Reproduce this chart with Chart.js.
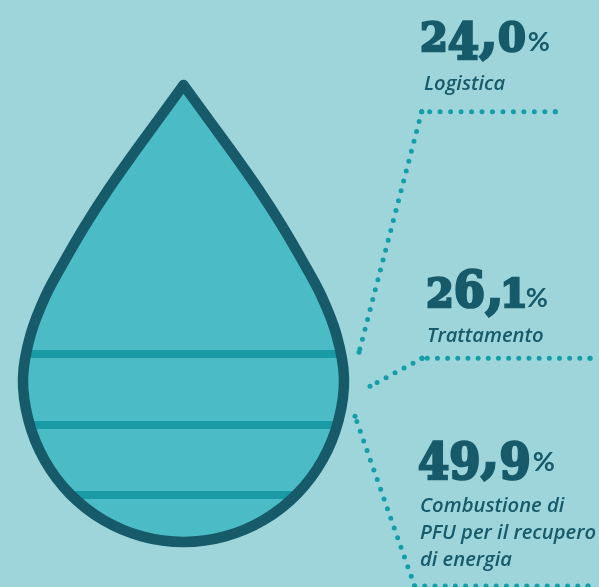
<!DOCTYPE html>
<html lang="it">
<head>
<meta charset="utf-8">
<title>Destinazione dei PFU</title>
<script src="https://cdn.jsdelivr.net/npm/chart.js@4"></script>
<style>
  html, body { margin: 0; padding: 0; background: #9dd5db; }
  #stage { position: relative; width: 599px; height: 587px; overflow: hidden; }
  #stage canvas { position: absolute; left: 0; top: 0; }
  .share { position: absolute; color: #175a69; white-space: nowrap; line-height: 1; }
  .share .num { font-family: "DejaVu Serif", serif; font-weight: 700; -webkit-text-stroke: 2.4px #175a69; display: inline-block; }
  .share .num span { position: relative; display: inline-block; transform-origin: 50% 84.6%; }
  .share .pct { font-family: Lato, sans-serif; font-weight: 700; font-size: 27px; margin-left: 2px; }
  .caption { position: absolute; color: #175a69; font-family: "Open Sans", sans-serif; font-weight: 600; font-style: italic; font-size: 20.2px; white-space: nowrap; line-height: 27px; }
</style>
</head>
<body>
<div id="stage"><canvas id="chart" width="599" height="587"></canvas></div>
<script>
// Shares of end-of-life tyre costs, as printed next to the drop
const categories = [["Logistica"], ["Trattamento"], ["Combustione di", "PFU per il recupero", "di energia"]];
const shares = [24.0, 26.1, 49.9];

// Drop outline, clockwise from the tip round the left side
const dropX = [183.5, 158, 132.5, 108, 85.5, 65, 46, 30.5, 23, 28.5, 44.5, 70, 103.25, 142, 183.5,
               225, 263.75, 297, 322.5, 338.5, 344, 336.5, 321, 302, 281.5, 259, 234.5, 209, 183.5];
const dropY = [85, 120, 155, 190, 225, 260, 295, 335, 378, 420.4, 460, 494, 520, 536.4, 542,
               536.4, 520, 494, 460, 420.4, 378, 335, 295, 260, 225, 190, 155, 120, 85];

// Horizontal bands across the drop
const bandLevels = [354, 425, 495];
const bandLefts = [26, 30, 72];
const bandRights = [341, 337, 295];

// Dotted leaders: each run is listed from the end where its dots begin
const leaderRuns = [
  { x: [555.3, 421.7], y: [111.7, 111.7], pitch: 10.47 },
  { x: [421.7, 359], y: [111.7, 352.3], pitch: 10.22 },
  { x: [590, 422], y: [358.3, 358.3], pitch: 10.17 },
  { x: [422, 370], y: [358.3, 386.3], pitch: 10.2 },
  { x: [588, 414.6], y: [586, 586], pitch: 10.2 },
  { x: [414.6, 355], y: [586, 416.3], pitch: 10.25 }
];

const toPoints = (xs, ys) => xs.map((x, i) => ({ x, y: ys[i] }));

const datasets = [];
// Filled body sits furthest back, then the bands, then the outline
datasets.push({
  data: toPoints(dropX, dropY), order: 30, tension: 0.33, borderWidth: 0,
  backgroundColor: "#4bbcc5", fill: "shape", pointRadius: 0
});
bandLevels.forEach((level, i) => datasets.push({
  data: toPoints([bandLefts[i], bandRights[i]], [level, level]), order: 20,
  borderColor: "#1a9aa5", borderWidth: 8, pointRadius: 0, fill: false
}));
datasets.push({
  data: toPoints(dropX, dropY), order: 10, tension: 0.33, borderColor: "#175a69", borderWidth: 10.5,
  borderJoinStyle: "round", borderCapStyle: "round", pointRadius: 0, fill: false
});
leaderRuns.forEach(run => datasets.push({
  data: toPoints(run.x, run.y), order: 5, borderColor: "#169ea8", borderWidth: 5,
  borderCapStyle: "round", borderDash: [0, run.pitch], pointRadius: 2.5,
  pointBackgroundColor: "#169ea8", pointBorderWidth: 0, fill: false
}));

new Chart(document.getElementById("chart"), {
  type: "scatter",
  data: { datasets },
  options: {
    responsive: false,
    animation: false,
    showLine: true,
    layout: { padding: 0, autoPadding: false },
    clip: false,
    plugins: { legend: { display: false }, tooltip: { enabled: false } },
    scales: {
      x: { type: "linear", min: 0, max: 599, display: false },
      y: { type: "linear", min: 0, max: 587, reverse: true, display: false }
    }
  }
});

// Value and caption text set beside the leaders
const numberAnchors = [[420, 51], [426, 307], [418, 471]];
const captionAnchors = [[424, 69], [427, 321], [420, 491]];
const stage = document.getElementById("stage");

// Old-style figures: 4 and 9 hang below the baseline, 6 rises above it
function figureSpan(ch) {
  const s = document.createElement("span");
  s.textContent = ch;
  if (ch === "4" || ch === "9") { s.style.fontSize = "45px"; s.style.transform = "translateY(8px) scaleY(1.12)"; }
  else if (ch === "6") { s.style.fontSize = "45px"; s.style.transform = "scaleY(1.14)"; }
  else if (ch === ",") { s.style.fontSize = "54px"; }
  else if (ch === "1") { s.style.marginLeft = "-4px"; s.style.marginRight = "-4px"; }
  return s;
}

shares.forEach((value, i) => {
  const box = document.createElement("div");
  box.className = "share";
  const num = document.createElement("span");
  num.className = "num";
  num.style.fontSize = "40px";
  for (const ch of value.toFixed(1).replace(".", ",")) num.appendChild(figureSpan(ch));
  const pct = document.createElement("span");
  pct.className = "pct";
  pct.textContent = "%";
  box.append(num, pct);
  box.style.left = numberAnchors[i][0] + "px";
  box.style.top = "0px";
  stage.appendChild(box);
  // Bring the figures' baseline down onto the anchor
  const probe = document.createElement("span");
  probe.style.cssText = "display:inline-block;width:0;height:0;vertical-align:baseline";
  box.appendChild(probe);
  box.style.top = (numberAnchors[i][1] - probe.getBoundingClientRect().bottom) + "px";
  probe.remove();

  const cap = document.createElement("div");
  cap.className = "caption";
  cap.innerHTML = categories[i].join("<br>");
  cap.style.left = captionAnchors[i][0] + "px";
  cap.style.top = captionAnchors[i][1] + "px";
  stage.appendChild(cap);
});
</script>
</body>
</html>
